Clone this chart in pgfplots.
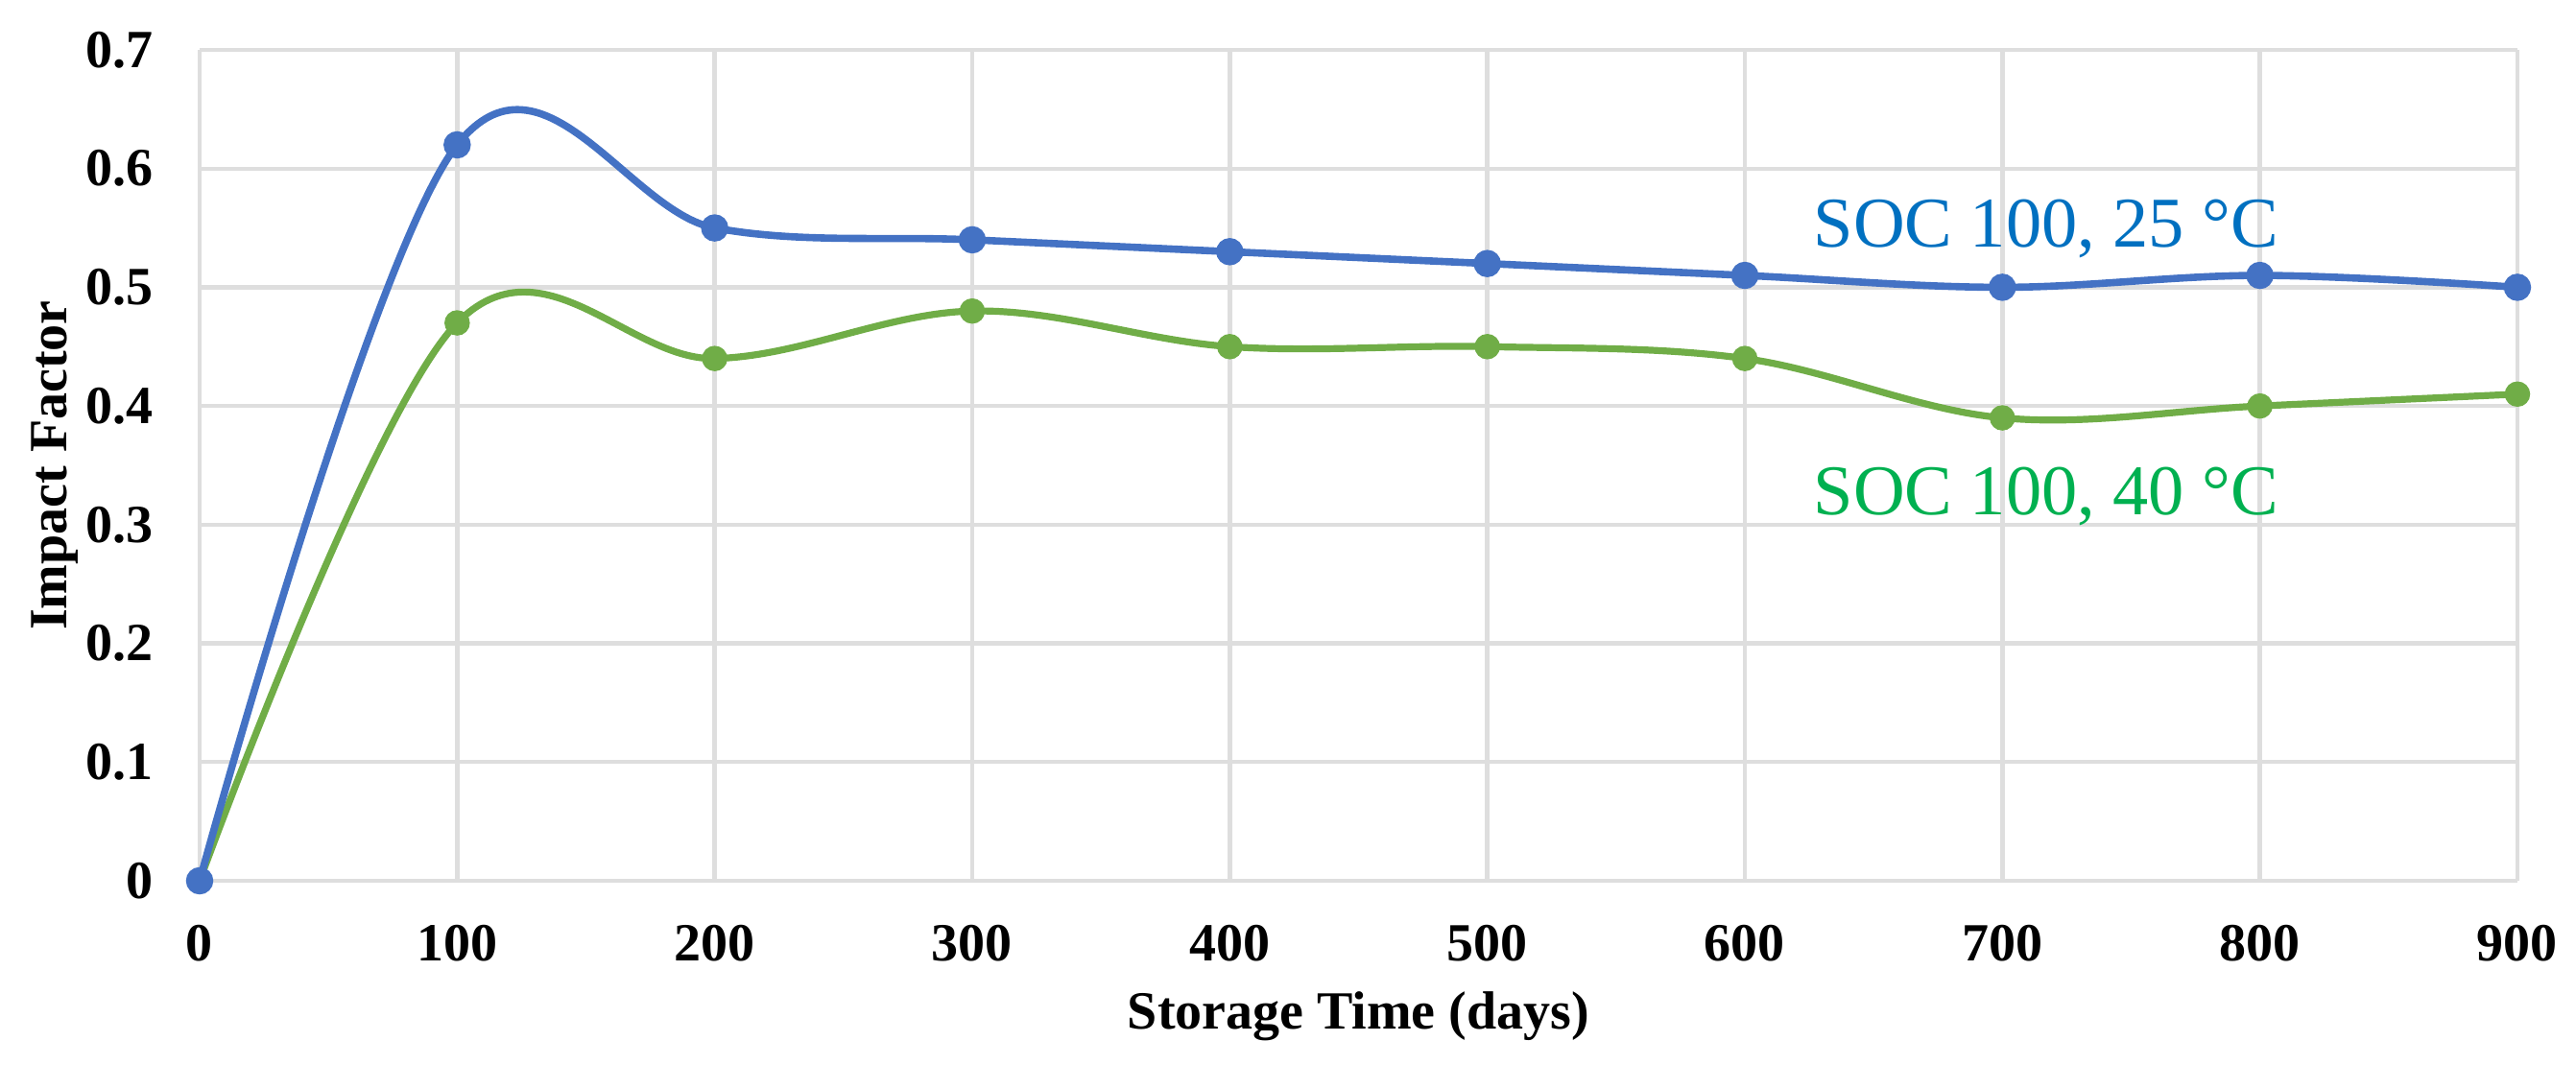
\documentclass[border=0pt]{standalone}
\usepackage{pgfplots}
\pgfplotsset{compat=1.18}
\usepackage{fontspec}
\setmainfont{Liberation Serif}
\definecolor{lblue}{HTML}{4472C4}
\definecolor{lgreen}{HTML}{70AD47}
\definecolor{tblue}{HTML}{0070C0}
\definecolor{tgreen}{HTML}{00B050}
\definecolor{gridc}{HTML}{DEDEDE}
\begin{document}
\begin{tikzpicture}
\path[use as bounding box] (-52bp,-48bp) rectangle (619bp,229.5bp);
\begin{axis}[
  at={(0,0)}, anchor=south west,
  scale only axis,
  width=603.75bp, height=216.5bp,
  xmin=0, xmax=900, ymin=0, ymax=0.7,
  xtick={0,100,200,300,400,500,600,700,800,900},
  ytick={0,0.1,0.2,0.3,0.4,0.5,0.6,0.7},
  grid=major,
  major grid style={draw=gridc, line width=1.1bp},
  axis line style={draw=none},
  tick style={draw=none},
  /pgf/number format/assume math mode=true,
  ticklabel style={font=\fontsize{14bp}{16bp}\selectfont\bfseries},
  yticklabel style={/pgf/number format/fixed, /pgf/number format/precision=1, anchor=east, inner sep=0pt, xshift=-12bp},
  xticklabel style={anchor=north, inner sep=0pt, yshift=-11.25bp},
  xlabel={Storage Time (days)},
  ylabel={Impact Factor},
  label style={font=\fontsize{14bp}{16bp}\selectfont\bfseries},
  xlabel style={at={(axis description cs:0.5,0)}, anchor=base, yshift=-38.5bp, inner sep=0pt},
  ylabel style={at={(axis description cs:-0.05714,0.5)}, anchor=base, rotate=0, inner sep=0pt},
  clip=false,
]
\addplot[lgreen, line width=1.8bp, smooth, tension=0.6, mark=*, mark size=2.4bp, mark options={fill=lgreen, draw=lgreen}] coordinates {
(0,0) (100,0.47) (200,0.44) (300,0.48) (400,0.45) (500,0.45) (600,0.44) (700,0.39) (800,0.40) (900,0.41)
};
\addplot[lblue, line width=1.9bp, smooth, tension=0.6, mark=*, mark size=2.6bp, mark options={fill=lblue, draw=lblue}] coordinates {
(0,0) (100,0.62) (200,0.55) (300,0.54) (400,0.53) (500,0.52) (600,0.51) (700,0.50) (800,0.51) (900,0.50)
};
\node[anchor=base, inner sep=0pt, text=tblue, font=\fontsize{18.6bp}{22bp}\selectfont] at (axis cs:717,0.534) {SOC 100, 25 °C};
\node[anchor=base, inner sep=0pt, text=tgreen, font=\fontsize{18.6bp}{22bp}\selectfont] at (axis cs:717,0.308) {SOC 100, 40 °C};
\end{axis}
\end{tikzpicture}
\end{document}
